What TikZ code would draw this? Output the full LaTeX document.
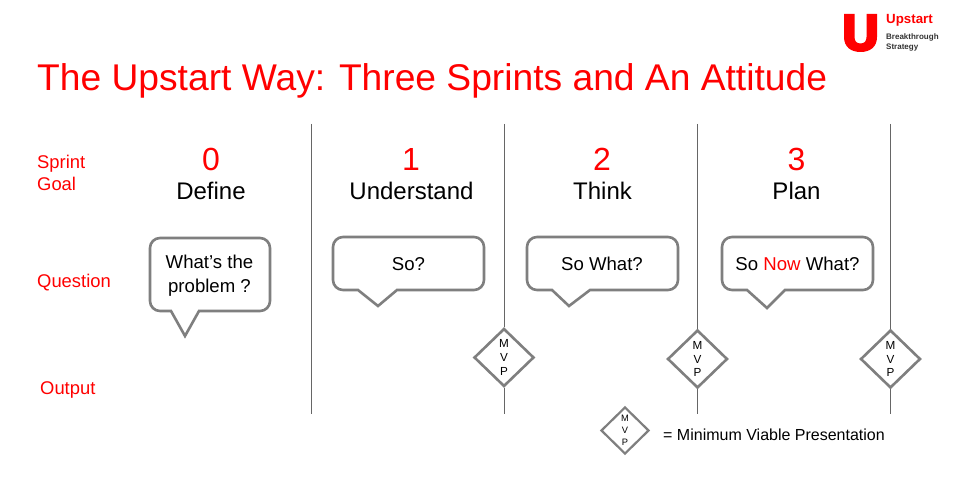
\documentclass[tikz,border=0pt]{standalone}
\usepackage{fontspec}
\setmainfont{Liberation Sans}
\usetikzlibrary{shapes.geometric}
\definecolor{upred}{HTML}{FF0000}
\definecolor{shapegray}{HTML}{7F7F7F}
\definecolor{rulegray}{HTML}{666666}
\tikzset{
  x=1pt,y=-1pt,
  lab/.style={text=upred,font=\fontsize{18.4}{22}\selectfont,anchor=base west,inner sep=0pt},
  num/.style={text=upred,font=\fontsize{32}{36}\selectfont,anchor=base,inner sep=0pt},
  head/.style={text=black,font=\fontsize{24}{28}\selectfont,anchor=base,inner sep=0pt},
  bubtext/.style={text=black,font=\fontsize{18.6}{24}\selectfont,align=center,inner sep=0pt},
  bubble/.style={draw=shapegray,line width=2.6pt,line join=miter},
  rulel/.style={draw=rulegray,line width=1pt},
  mvp/.style={shape=diamond,draw=shapegray,line width=2.6pt,fill=white,aspect=1,inner sep=0pt,minimum width=60pt,minimum height=58pt,align=center,font=\fontsize{11.7}{13.8}\selectfont},
  mvps/.style={mvp,line width=2.2pt,minimum width=48pt,minimum height=47pt,font=\fontsize{9.3}{12}\selectfont},
}
\begin{document}
\begin{tikzpicture}
\useasboundingbox (0,0) rectangle (955,478);
\fill[white] (0,0) rectangle (955,478);
% title
\node[anchor=base west,inner sep=0pt,text=upred,font=\fontsize{37.2}{42}\selectfont] (title) at (37,91) {The Upstart Way: Three Sprints and An Attitude};
% logo
\fill[upred] (844,14) -- (854.5,14) -- (854.5,37) .. controls (854.5,41) and (856.5,43.5) .. (860.5,43.5) .. controls (864.5,43.5) and (866.5,41) .. (866.5,37) -- (866.5,14) -- (877,14) -- (877,37) .. controls (877,47) and (870,52) .. (860.5,52) .. controls (851,52) and (844,47) .. (844,37) -- cycle;
\node[anchor=base west,inner sep=0pt,text=upred,font=\bfseries\fontsize{13.3}{15}\selectfont] (logoname) at (886,24) {Upstart};
\node[anchor=base west,inner sep=0pt,text=black!80,font=\bfseries\fontsize{8}{10}\selectfont] (logo1) at (886,40) {Breakthrough};
\node[anchor=base west,inner sep=0pt,text=black!80,font=\bfseries\fontsize{8}{10}\selectfont] (logo2) at (886,50) {Strategy};
% row labels
\node[lab] (sprint) at (37,168.7) {Sprint};
\node[lab] (goal) at (37,190.7) {Goal};
\node[lab] (question) at (37,287.7) {Question};
\node[lab] (output) at (40,394) {Output};
% headings
\node[num] (n0) at (211,170.5) {0};
\node[num] (n1) at (411,170.5) {1};
\node[num] (n2) at (602,170.5) {2};
\node[num] (n3) at (796.5,170.5) {3};
\node[head] (h0) at (211,200) {Define};
\node[head] (h1) at (411.5,200) {Understand};
\node[head] (h2) at (602.5,200) {Think};
\node[head] (h3) at (796.5,200) {Plan};
% bubbles
\draw[bubble] (185,336) -- (171,311) [rounded corners=10pt] -- (150,311) -- (150,238) -- (270,238) -- (270,311) [sharp corners] -- (199,311) -- cycle;
\draw[bubble] (378,306) -- (358,290) [rounded corners=10pt] -- (333,290) -- (333,237) -- (484,237) -- (484,290) [sharp corners] -- (397,290) -- cycle;
\draw[bubble] (569,306) -- (552,290) [rounded corners=10pt] -- (527,290) -- (527,237) -- (678,237) -- (678,290) [sharp corners] -- (590,290) -- cycle;
\draw[bubble] (767,308) -- (747,290) [rounded corners=10pt] -- (722,290) -- (722,237) -- (873,237) -- (873,290) [sharp corners] -- (785,290) -- cycle;
\node[bubtext] (q0) at (209.5,276) {What’s the\\problem ?};
\node[bubtext] (q1) at (408.5,264) {So?};
\node[bubtext] (q2) at (602,264) {So What?};
\node[bubtext] (q3) at (797.5,264) {So \textcolor{upred}{Now} What?};
% rules and diamonds
\coordinate (t0) at (311,124); \coordinate (b0) at (311,414);
\coordinate (t1) at (504,124); \coordinate (b1) at (504,414);
\coordinate (t2) at (697.5,124); \coordinate (b2) at (697.5,414);
\coordinate (t3) at (890.5,124); \coordinate (b3) at (890.5,414);
\node[mvp] (d1) at (504,357.5) {M\\V\\P};
\node[mvp] (d2) at (697.5,359) {M\\V\\P};
\node[mvp] (d3) at (890.5,359) {M\\V\\P};
\node[mvps] (d4) at (625,430.5) {M\\V\\P};
\draw[rulel] (t0) -- (b0);
\draw[rulel] (t1) -- (d1.north);
\draw[rulel] (d1.south) -- (b1);
\draw[rulel] (t2) -- (d2.north);
\draw[rulel] (d2.south) -- (b2);
\draw[rulel] (t3) -- (d3.north);
\draw[rulel] (d3.south) -- (b3);
\node[anchor=base west,inner sep=0pt,text=black,font=\fontsize{16}{18}\selectfont] (legend) at (663,440) {= Minimum Viable Presentation};
\end{tikzpicture}
\end{document}
